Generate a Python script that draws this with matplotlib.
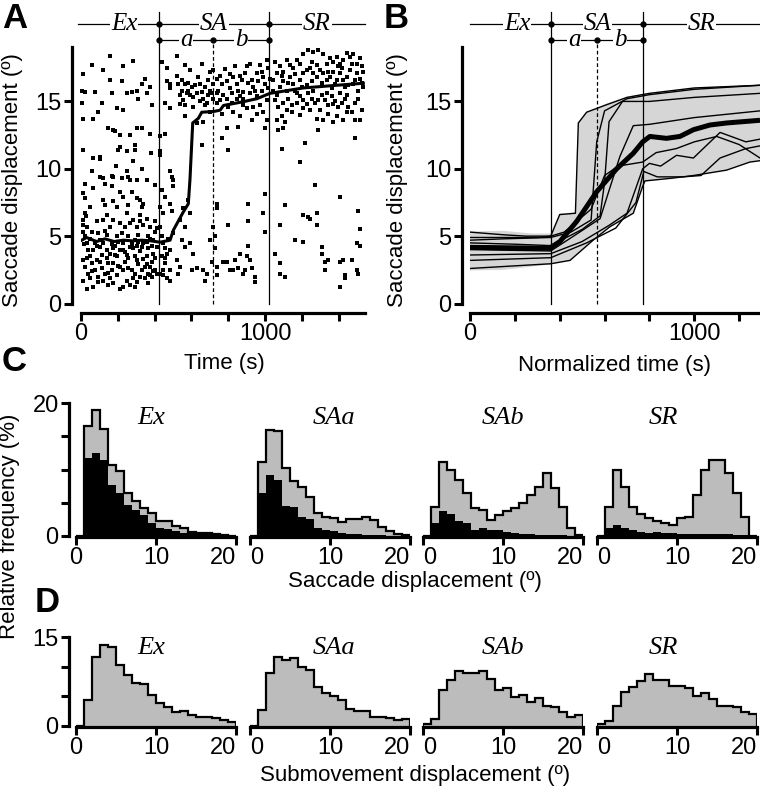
import matplotlib
matplotlib.use("Agg")
import matplotlib.pyplot as plt
import numpy as np

SANS = ["Liberation Sans", "DejaVu Sans"]
SERIF = ["Liberation Serif", "DejaVu Serif"]
plt.rcParams.update({"font.family": SANS, "font.size": 16})

# ---------------- data ----------------
# panel A: single session, saccade displacement vs time
dots_ex = [
    (12,17.0),(58,17.7),(157,18.4),(230,17.6),(284,18.0),(121,17.3),(3,15.8),(22,15.7),(76,15.7),(3,14.9),
    (12,13.7),(67,13.7),(94,14.2),(112,14.9),(157,16.6),(166,15.6),(194,14.5),(221,16.5),(230,14.4),(248,15.6),
    (275,15.7),(302,15.8),(311,15.2),(330,16.3),(348,16.7),(375,16.1),(384,14.7),(357,15.6),(375,12.6),(302,13.0),
    (330,13.0),(176,12.9),(185,12.8),(148,13.0),(212,12.5),(266,12.5),
    (12,11.4),(67,10.8),(103,10.9),(103,10.7),(203,11.4),(212,11.6),(248,11.3),(293,11.8),(293,11.4),(22,8.9),
    (67,8.6),(103,9.4),(121,9.3),(130,8.9),(166,9.5),(176,9.4),(166,8.7),(221,9.3),(248,9.8),(257,9.4),
    (266,9.2),(330,10.0),(357,9.2),(302,9.2),(402,8.8),(12,8.2),(22,7.8),(49,7.2),(121,7.7),(130,7.3),
    (176,7.6),(194,7.2),(212,8.3),(230,7.9),(257,7.3),(275,8.3),(302,7.8),(321,7.7),(330,7.2),(339,7.4),
    (22,6.7),(12,6.2),
    (12,5.8),(12,5.3),(22,5.0),(31,4.5),(67,4.0),(103,4.2),(121,4.5),(157,3.7),(176,4.1),(212,4.0),
    (230,4.5),(248,3.6),(266,4.2),(302,4.3),(321,3.9),(339,4.5),(366,4.1),(393,3.7),(411,4.2),(12,3.2),
    (22,2.7),(40,2.2),(76,2.5),(112,2.6),(130,2.2),(148,3.0),(166,2.5),(194,2.1),(212,2.7),(239,3.1),
    (275,2.5),(293,2.2),(321,2.0),(348,2.7),(375,2.1),(402,2.5),(12,1.7),(31,1.1),(67,1.2),(121,1.7),
    (176,1.5),(212,1.1),(230,1.2),(266,1.4),(302,1.6),(348,1.9),(384,2.0),(31,5.7),(85,6.1),(121,6.2),
    (157,5.7),(176,6.2),(212,6.0),(239,5.7),(266,6.0),(284,6.2),(302,5.7),(321,6.1),(339,5.8),(357,6.3),
    (375,5.7),(402,5.3),(58,5.3),(94,5.2),(139,5.1),(194,5.0),(257,5.0),(311,5.1),(366,5.0),(393,4.7),
    (49,3.5),(85,3.2),(139,3.4),(194,3.5),(257,3.4),(302,3.2),(357,3.5),(384,3.1),(49,1.9),(94,2.0),
    (157,1.9),(248,1.7),(284,1.9),(330,2.5),(366,2.2),(49,4.8),(103,4.7),(203,4.6),(293,4.7),(357,4.6),
    (40,4.0),(76,4.5),(139,4.0),(185,4.3),(230,4.0),(284,4.1),(330,4.2),(384,4.3),(58,3.0),(103,3.1),
    (176,3.0),(230,2.5),(311,2.9),(375,2.7),(411,2.2),(94,1.6),(148,1.4),(293,1.2),(366,1.5),(402,3.4),
    (15,4.4),(35,3.4),(60,2.4),(85,4.3),(112,3.6),(130,5.4),(148,2.3),(166,4.4),(185,3.6),(203,2.8),
    (221,5.2),(239,3.8),(257,2.6),(275,4.4),(293,3.5),(311,4.6),(339,3.3),(357,2.9),(375,4.8),(393,2.4),
    (411,5.6),(28,6.5),(140,6.6),(250,6.7),(320,6.6),(400,6.1),(60,9.8),(190,10.2),(280,10.6),(380,11.2),
]
dots_sa = [
    (438,17.9),(465,17.5),(520,18.4),(565,17.7),(592,17.3),(656,17.8),(701,17.2),(719,17.3),(465,16.5),(484,16.3),
    (547,15.8),(565,16.3),(583,15.8),(592,15.5),(620,16.2),(629,15.6),(656,15.7),(674,16.1),(701,15.8),(710,15.6),
    (719,15.2),(538,15.5),(556,15.1),(574,15.6),(601,16.1),(647,15.0),(665,15.2),(692,15.5),(683,14.9),(456,14.9),
    (484,14.5),(484,16.0),(529,16.3),(565,14.7),(610,14.6),(629,13.4),(665,13.5),(656,11.8),(565,13.9),(701,14.2),
    (429,12.4),(429,11.3),(429,11.0),(456,12.6),(484,9.8),(493,9.4),(502,9.2),(502,8.7),(484,7.4),(493,6.9),
    (438,8.4),(456,7.9),(429,7.2),(447,6.7),(556,7.1),(583,7.7),(592,6.7),(538,6.2),
    (429,5.7),(438,5.0),(447,4.5),(456,4.1),(465,3.7),(484,4.0),(438,3.5),(456,3.0),(484,2.5),(429,2.2),
    (447,2.1),(465,1.9),(484,1.7),(520,3.2),(538,2.7),(547,4.7),(565,4.2),(592,4.5),(601,2.5),(610,3.7),
    (629,2.6),(665,2.5),(674,1.7),(683,2.2),(701,4.7),(710,3.1),(719,5.7),(529,2.2),(502,5.2),(475,4.8),
    (456,3.4),(447,2.5),(565,5.7),
    (520,16.9),(547,16.6),(583,16.4),(638,16.8),(692,16.6),(610,15.3),(647,16.3),(719,16.3),(538,14.8),(674,14.7),
    (737,16.7),(746,15.8),(764,16.3),(773,15.5),(792,16.5),(810,16.0),(819,15.6),(828,16.8),(846,16.3),(855,15.8),
    (873,16.6),(882,15.7),(891,17.1),(900,17.6),(918,17.8),(927,16.6),(937,16.1),(955,17.1),(964,16.5),(973,17.7),
    (982,15.8),(991,16.8),(1000,16.3),(1009,18.1),(1018,17.5),(1027,16.7),(918,15.6),(882,15.2),(955,15.4),(846,15.2),
    (792,15.2),(755,15.1),(737,14.9),(801,14.6),(828,14.2),(864,13.9),(900,14.5),(937,14.6),(973,14.7),(991,14.2),
    (1009,13.6),(927,13.6),(855,13.1),(792,13.0),(764,12.3),(801,11.4),(1000,13.0),(1009,15.1),(1018,16.0),(737,15.6),
    (764,14.1),(882,14.7),(955,14.1),
    (755,16.9),(782,17.4),(810,17.0),(837,17.6),(864,16.9),(909,16.4),(946,15.8),(982,17.2),(864,15.4),(819,14.9),
    (737,7.4),(737,7.1),(728,5.0),(728,4.1),(737,2.7),(737,2.1),(801,5.8),(773,3.1),(792,3.1),(828,2.5),
    (837,3.2),(864,3.7),(909,7.4),(909,6.1),(909,4.3),(900,3.5),(918,3.2),(927,2.6),(946,2.0),(946,1.6),
    (991,6.7),(1000,8.1),(810,2.5),(855,2.6),(891,2.5),(1000,5.3),(882,2.2),
]
dots_sr = [
    (1045,16.6),(1063,17.1),(1082,17.6),(1100,17.2),(1118,18.1),(1136,17.7),(1154,17.5),(1172,18.1),(1190,17.8),(1208,18.5),
    (1236,18.8),(1263,18.7),(1290,18.8),(1317,18.5),(1335,17.8),(1353,18.2),(1371,17.9),(1390,18.3),(1408,17.8),(1426,18.1),
    (1444,18.6),(1462,18.3),(1480,18.5),(1498,17.8),(1516,18.2),(1525,17.6),(1534,17.2),
    (1045,15.8),(1063,15.5),(1082,16.1),(1100,16.5),(1118,15.8),(1136,16.8),(1154,16.3),(1172,15.6),(1190,16.6),(1208,17.1),
    (1227,17.3),(1245,17.5),(1263,17.1),(1281,16.8),(1299,17.3),(1317,17.1),(1335,16.6),(1353,16.8),(1371,17.2),(1390,16.6),
    (1408,17.1),(1426,16.6),(1444,16.8),(1462,17.3),(1480,16.3),(1498,17.1),(1516,16.7),(1534,16.1),
    (1054,15.1),(1072,14.6),(1100,14.9),(1127,15.2),(1145,14.7),(1172,14.9),(1190,15.4),(1208,15.1),(1236,15.6),(1254,15.2),
    (1272,14.9),(1290,15.1),(1308,15.5),(1326,15.1),(1344,14.7),(1362,15.4),(1380,15.0),(1399,14.6),(1417,14.9),(1435,15.2),
    (1453,14.6),(1471,14.2),(1489,14.9),(1507,15.2),(1525,14.4),
    (1063,13.6),(1091,13.9),(1109,13.5),(1145,14.2),(1190,14.0),(1208,14.5),(1245,14.4),(1281,13.7),(1290,12.9),(1317,13.6),
    (1344,14.1),(1371,13.5),(1390,13.9),(1426,13.6),(1444,14.2),(1489,13.6),(1516,13.6),(1072,12.9),(1100,13.0),
    (1054,17.9),(1091,16.9),(1127,16.4),(1163,17.0),(1199,16.1),(1227,16.2),(1254,16.5),(1281,17.7),(1308,16.4),(1344,17.2),
    (1380,16.3),(1417,17.5),(1453,16.2),(1489,16.6),(1525,16.4),(1254,17.9),(1399,17.6),(1471,17.8),(1362,16.0),(1435,16.1),
    (1118,14.4),(1163,15.8),(1227,14.8),(1263,15.8),(1299,14.4),(1335,15.6),(1371,14.8),(1408,15.6),(1444,15.5),(1507,15.8),
    (1091,11.5),(1190,10.5),(1217,11.9),(1272,8.8),(1408,7.9),(1489,12.3),(1507,6.9),
    (1054,3.7),(1082,5.8),(1082,3.0),(1109,7.3),(1082,2.2),(1109,2.0),(1208,6.6),(1208,4.6),(1236,6.4),(1245,6.3),
    (1281,5.8),(1308,4.2),(1308,3.7),(1326,3.1),(1326,2.5),(1344,3.2),(1408,3.1),(1426,3.2),(1435,2.1),(1435,1.9),
    (1471,3.2),(1498,2.5),(1507,2.2),(1516,5.5),(1516,4.3),(1408,1.2),(1498,4.5),(1281,6.7),(1163,4.7),
]
avg_t = [4, 30, 85, 130, 180, 230, 280, 330, 380, 429, 484, 502, 556, 583, 592, 607, 638, 656, 719, 756, 774,
         882, 955, 1027, 1208, 1390, 1534]
avg_v = [4.7, 4.9, 4.6, 4.8, 4.6, 4.7, 4.65, 4.7, 4.65, 4.55, 4.7, 5.45, 6.8, 7.4, 9.2, 13.4, 13.75, 14.2, 14.25,
         14.35, 14.7, 14.98, 15.2, 15.6, 16.0, 16.2, 16.35]
phase_a = [424, 717, 1022]          # Ex|SA, a|b, SA|SR  (s)

# panel B: normalized sessions
phase_b = [362, 567, 772]
env_up_t = [0, 150, 270, 360, 400, 470, 483, 520, 609, 698, 788, 996, 1293]
env_up_v = [5.35, 5.4, 5.2, 5.2, 6.7, 6.75, 13.4, 14.2, 14.85, 15.35, 15.6, 16.0, 16.25]
env_lo_t = [0, 150, 360, 446, 549, 624, 728, 770, 780, 835, 996, 1144, 1248, 1293]
env_lo_v = [2.45, 2.5, 2.9, 3.2, 4.7, 5.7, 6.7, 8.7, 9.05, 9.15, 9.5, 9.9, 10.5, 10.6]
sessions = [
    ([0,150,250,360,400,470,483,520,600,700,800,1000,1293],
     [5.3,5.1,5.0,5.0,6.6,6.7,13.4,14.2,14.7,15.3,15.6,16.0,16.2]),
    ([0,150,360,450,540,565,600,700,800,1000,1293],
     [4.7,4.8,4.9,5.3,6.2,12.0,14.3,15.2,15.5,15.9,16.2]),
    ([0,200,360,500,580,600,620,680,800,1000,1293],
     [4.5,4.4,4.3,5.5,6.5,9.0,13.5,15.0,15.0,15.3,15.6]),
    ([0,360,480,580,668,728,800,1000,1293],
     [4.0,3.9,5.2,6.3,10.9,13.2,13.3,13.8,14.3]),
    ([0,360,500,620,700,770,800,850,921,996,1115,1230,1293],
     [3.6,3.7,4.6,5.8,6.7,10.0,10.4,10.2,11.0,10.8,12.7,12.0,12.2]),
    ([0,360,520,650,740,775,835,950,1030,1115,1230,1293],
     [3.2,3.4,4.5,5.6,7.5,9.8,9.4,9.4,9.5,10.8,11.5,11.7]),
    ([0,360,446,549,624,728,770,780,900,996,1144,1248,1293],
     [2.6,2.95,3.2,4.7,5.7,6.7,8.7,9.1,9.3,9.5,9.9,10.5,10.6]),
    ([0,300,360,420,540,600,660,770,830,920,1000,1100,1200,1293],
     [4.9,4.9,5.0,5.3,7.0,9.5,10.2,10.5,11.2,11.5,12.0,12.4,11.8,10.8]),
]
mean_t = [0, 355, 401, 476, 565, 654, 728, 770, 802, 876, 936, 996, 1070, 1144, 1293]
mean_v = [4.17, 4.1, 4.6, 6.1, 8.3, 10.0, 11.15, 12.0, 12.4, 12.26, 12.4, 12.9, 13.25, 13.4, 13.6]

# panels C, D: histograms, 1 deg bins 0-20
edges = np.arange(0, 21)
phases = ["Ex", "SAa", "SAb", "SR"]
sacc_all = [
    [0, 16.5, 19.0, 16.1, 10.7, 9.7, 6.4, 5.2, 4.2, 3.4, 2.2, 2.2, 1.5, 1.2, 0.65, 0.5, 0.5, 0.3, 0.15, 0.05],
    [0, 11.1, 16.0, 15.8, 10.2, 8.3, 7.3, 5.8, 3.4, 2.9, 2.7, 2.1, 2.6, 2.6, 2.9, 2.4, 1.4, 0.75, 0.25, 0.1],
    [0, 4.4, 11.2, 10.0, 8.4, 6.4, 4.2, 3.9, 2.4, 3.2, 3.7, 4.2, 4.9, 6.2, 7.4, 9.4, 7.2, 4.4, 1.2, 0.15],
    [0, 4.3, 9.9, 7.4, 4.4, 3.3, 2.7, 2.3, 1.9, 1.7, 2.7, 2.9, 6.2, 9.9, 11.5, 11.5, 9.4, 6.4, 2.9, 0],
]
sacc_single = [
    [0, 11.7, 12.5, 11.5, 7.7, 6.4, 4.7, 3.9, 3.2, 1.9, 1.2, 1.0, 0.8, 0.5, 0.4, 0.3, 0.3, 0.2, 0.1, 0.05],
    [0, 6.4, 9.2, 8.4, 4.5, 4.4, 2.9, 2.5, 1.2, 0.9, 0.7, 0.5, 0.3, 0.25, 0.2, 0.15, 0.1, 0.05, 0.05, 0],
    [0, 1.9, 3.7, 3.3, 2.2, 1.9, 0.9, 1.2, 0.9, 0.9, 0.65, 0.4, 0.3, 0.25, 0.2, 0.2, 0.15, 0.1, 0.05, 0],
    [0, 1.2, 1.7, 1.2, 0.9, 0.65, 0.5, 0.65, 0.5, 0.4, 0.35, 0.3, 0.3, 0.3, 0.3, 0.3, 0.25, 0.2, 0.15, 0],
]
submov = [
    [0, 4.4, 11.6, 13.7, 13.3, 10.2, 8.6, 7.2, 7.1, 5.3, 3.8, 3.2, 2.3, 2.6, 1.9, 1.6, 1.5, 1.4, 1.0, 0.6],
    [0, 2.7, 9.0, 11.6, 11.2, 11.4, 9.9, 9.4, 6.5, 5.5, 5.1, 4.3, 2.8, 2.6, 2.6, 1.6, 1.6, 1.4, 1.0, 1.1],
    [0.3, 1.2, 6.1, 7.8, 9.2, 8.9, 9.0, 9.3, 8.0, 6.1, 6.4, 4.9, 5.3, 4.0, 4.7, 3.4, 3.2, 2.3, 1.6, 1.9],
    [0.3, 0.9, 3.3, 5.8, 6.6, 7.6, 8.8, 7.8, 7.7, 6.8, 6.7, 6.4, 5.1, 5.6, 4.6, 3.4, 3.4, 3.2, 2.4, 2.1],
]
title_x = [9.4, 10.5, 10.0, 8.3]

# ---------------- figure ----------------
W, H = 760, 792
fig = plt.figure(figsize=(W / 100, H / 100), dpi=100)

def rect(x0, x1, ytop, ybot):
    return [x0 / W, 1 - ybot / H, (x1 - x0) / W, (ybot - ytop) / H]

def style(ax, left_off, bottom_off, left=True):
    ax.spines["top"].set_visible(False)
    ax.spines["right"].set_visible(False)
    ax.spines["left"].set_position(("outward", left_off))
    ax.spines["bottom"].set_position(("outward", bottom_off))
    for s in ("left", "bottom"):
        ax.spines[s].set_linewidth(2.3)
    if not left:
        ax.spines["left"].set_visible(False)
        ax.set_yticks([])
    ax.tick_params(width=2.2, length=6, labelsize=17, pad=1.5)
    ax.patch.set_alpha(0)

def labs(ticks, show):
    return [str(t) if t in show else "" for t in ticks]

def bracket(ax, bounds, x0, x1, ytop, ylow, top_v):
    it = dict(family=SERIF, style="italic", fontsize=18, ha="center", va="center",
              bbox=dict(fc="white", ec="none", pad=0.6))
    b1, bm, b2 = bounds
    ax.plot([x0, x1], [ytop, ytop], color="k", lw=0.9, clip_on=False)
    ax.plot([b1, b2], [ylow, ylow], color="k", lw=0.9, clip_on=False)
    ax.plot([b1, b2], [ytop, ytop], "o", color="k", ms=3.5, clip_on=False)
    ax.plot([b1, bm, b2], [ylow] * 3, "o", color="k", ms=3.5, clip_on=False)
    ax.text((x0 + b1) / 2 + 30, ytop, "Ex", **it)
    ax.text((b1 + b2) / 2, ytop, "SA", **it)
    ax.text((b2 + x1) / 2, ytop, "SR", **it)
    ax.text((b1 + bm) / 2, ylow, "a", **it)
    ax.text((bm + b2) / 2, ylow, "b", **it)
    for b in (b1, b2):
        ax.plot([b, b], [0, top_v], color="k", lw=0.9, clip_on=False)
    ax.plot([bm, bm], [0, ylow], color="k", lw=0.9, ls=(0, (3, 2)), clip_on=False)

YMAX = 19.04
V_TOP, V_BR1, V_BR2 = 21.64, 20.75, 19.56

# ----- A -----
axA = fig.add_axes(rect(81, 365, 47, 303.5))
style(axA, 6.5, 6.8)
for grp in (dots_ex, dots_sa, dots_sr):
    t, v = zip(*grp)
    axA.scatter(t, v, s=6, c="k", marker="s", lw=0, clip_on=False)
axA.plot(avg_t, avg_v, color="k", lw=2.2)
axA.set_xlim(0, 1543)
axA.set_ylim(0, YMAX)
xt = list(range(0, 1401, 200))
axA.set_xticks(xt)
axA.set_xticklabels(labs(xt, (0, 1000)))
axA.set_yticks([0, 5, 10, 15])
bracket(axA, phase_a, -16, 1543, V_BR1, V_BR2, V_TOP)

# ----- B -----
axB = fig.add_axes(rect(470, 760, 47, 303.5))
style(axB, 6, 6.8)
axB.fill(env_up_t + env_lo_t[::-1], env_up_v + env_lo_v[::-1], color="#d6d6d6", lw=0)
for st, sv in sessions:
    axB.plot(st, sv, color="k", lw=1.0)
axB.plot(mean_t, mean_v, color="k", lw=3.6, solid_capstyle="butt")
axB.set_xlim(0, 1293)
axB.set_ylim(0, YMAX)
xt = list(range(0, 1201, 200))
axB.set_xticks(xt)
axB.set_xticklabels(labs(xt, (0, 1000)))
axB.set_yticks([0, 5, 10, 15])
bracket(axB, phase_b, 0, 1293, V_BR1, V_BR2, V_TOP)

# ----- C, D -----
def hist_xticks(ax, k):
    ax.set_xticks([0, 10, 20])
    tl = ax.get_xticklabels()
    if k > 0:
        tl[0].set_horizontalalignment("left")
    tl[2].set_horizontalalignment("right")

x_starts = [76, 250, 423, 597]
for k, x0 in enumerate(x_starts):
    axC = fig.add_axes(rect(x0, x0 + 160, 403, 536))
    style(axC, 5, 0.5, left=(k == 0))
    axC.stairs(sacc_all[k], edges, fill=True, color="#bcbcbc", lw=0)
    axC.stairs(sacc_single[k], edges, fill=True, color="k", lw=0)
    axC.stairs(sacc_all[k], edges, color="k", lw=1.6)
    axC.set_xlim(0, 20)
    axC.set_ylim(0, 20)
    hist_xticks(axC, k)
    if k == 0:
        axC.set_yticks([0, 5, 10, 15, 20])
        axC.set_yticklabels(labs([0, 5, 10, 15, 20], (0, 20)))
    axC.text(title_x[k], 17.7, phases[k], family=SERIF, style="italic", fontsize=19,
             ha="center", va="center")

    axD = fig.add_axes(rect(x0, x0 + 160, 637, 726))
    style(axD, 5, 0.5, left=(k == 0))
    axD.stairs(submov[k], edges, fill=True, color="#bcbcbc", lw=0)
    axD.stairs(submov[k], edges, color="k", lw=1.6)
    axD.set_xlim(0, 20)
    axD.set_ylim(0, 15)
    hist_xticks(axD, k)
    if k == 0:
        axD.set_yticks([0, 5, 10, 15])
        axD.set_yticklabels(labs([0, 5, 10, 15], (0, 15)))
    axD.text(title_x[k], 13.2, phases[k], family=SERIF, style="italic", fontsize=19,
             ha="center", va="center")

# ----- labels -----
def ftext(x, y, s, **kw):
    fig.text(x / W, 1 - y / H, s, **kw)

letter = dict(weight="bold", fontsize=25, va="top", ha="left")
ftext(2, 2, "A", **letter)
ftext(384, 2, "B", **letter)
ftext(2, 345, "C", **letter)
ftext(35, 586, "D", **letter)

lab = dict(fontsize=16, ha="center", va="center")
ftext(13, 180, "Saccade displacement (º)", rotation=90, **lab)
ftext(397, 180, "Saccade displacement (º)", rotation=90, **lab)
ftext(224, 364, "Time (s)", **lab)
ftext(615, 366, "Normalized time (s)", **lab)
ftext(415, 582, "Saccade displacement (º)", **lab)
ftext(415, 775, "Submovement displacement (º)", **lab)
ftext(10, 526, "Relative frequency (%)", rotation=90, **lab)

fig.savefig("out.png", dpi=100)
